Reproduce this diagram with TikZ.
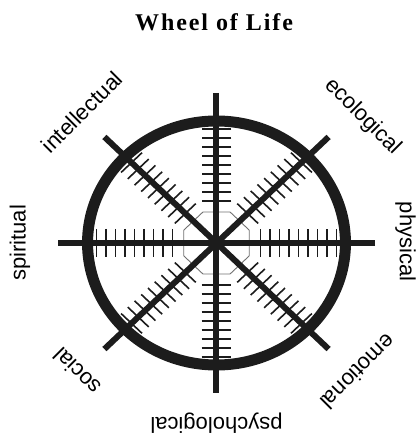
\documentclass[tikz,border=0pt]{standalone}
\usepackage{fontspec}
\setmainfont{Liberation Serif}
\setsansfont{Liberation Sans}
\definecolor{wlink}{HTML}{1C1C1C}
\definecolor{wgrid}{HTML}{707070}

\begin{document}
\begin{tikzpicture}[x=1pt,y=1pt,
  rim/.style={draw=wlink,line width=11pt},
  spoke/.style={draw=wlink,line width=6pt},
  rung/.style={draw=wlink,line width=1.6pt},
  hub/.style={draw=wgrid,line width=0.9pt},
  area/.style={font=\sffamily\fontsize{22}{24}\selectfont,inner sep=0pt},
  heading/.style={font=\bfseries\fontsize{24}{27}\selectfont\addfontfeature{LetterSpace=8},
    inner sep=0pt}]
  \useasboundingbox (-216.5,-191) rectangle (200.5,243);
  \node[heading] (title) at (-2.5,221) {Wheel of Life};
  % the wheel is a little wider than tall
  \begin{scope}[xscale=1.057]
    \draw[rim] (0,0) circle (122);
    \foreach \a in {0,45,...,315} {
      \begin{scope}[rotate=\a]
        \foreach \k in {0,...,8}
          \draw[rung] ({41.7+9*\k},-14) -- ({41.7+9*\k},14);
      \end{scope}
    }
    \draw[hub] (22.5:33.55) \foreach \a in {67.5,112.5,...,337.5} {-- (\a:33.55)} -- cycle;
    \foreach \a in {0,45,...,135}
      \draw[spoke] (\a:150) -- (\a+180:150);
  \end{scope}
  \node[area,rotate=45]   (intel) at (-134.5,131)   {intellectual};
  \node[area,rotate=-45]  (eco)   at (146,126.3)    {ecological};
  \node[area,rotate=-90]  (phys)  at (189,1.3)      {physical};
  \node[area,rotate=-135] (emo)   at (141.5,-129)   {emotional};
  \node[area,rotate=180]  (psy)   at (0,-180)       {psychological};
  \node[area,rotate=135]  (soc)   at (-139.8,-128.5){social};
  \node[area,rotate=90]   (spir)  at (-196.5,0)     {spiritual};
\end{tikzpicture}
\end{document}
